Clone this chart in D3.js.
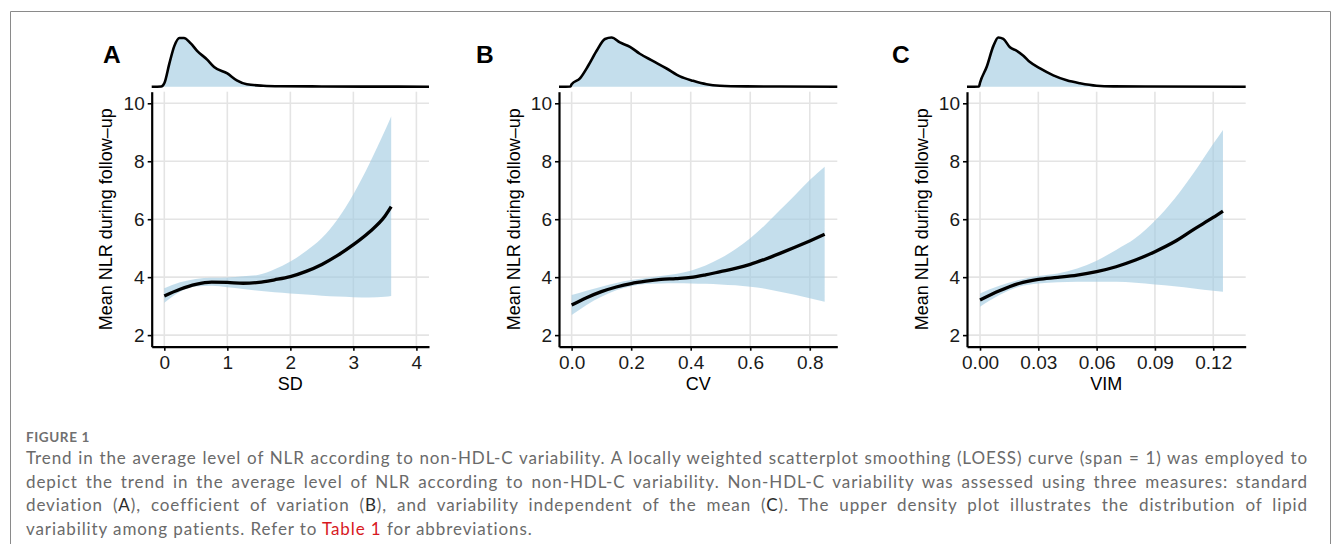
<!DOCTYPE html>
<html>
<head>
<meta charset="utf-8">
<script src="https://cdn.jsdelivr.net/npm/d3@7"></script>
<style>
  body { margin: 0; background: #fff; }
  svg { display: block; }
</style>
</head>
<body>
<div id="chart"></div>
<script>
// ---- data ----
// panel A: SD
var sdX     = [0, 0.25, 0.5, 0.75, 1.0, 1.25, 1.5, 1.75, 2.0, 2.25, 2.5, 2.75, 3.0, 3.25, 3.5, 3.6];
var sdFit   = [3.35, 3.58, 3.75, 3.83, 3.82, 3.79, 3.82, 3.91, 4.02, 4.20, 4.44, 4.75, 5.12, 5.55, 6.10, 6.43];
var sdUpper = [3.62, 3.82, 3.94, 3.98, 3.99, 4.03, 4.08, 4.27, 4.54, 4.90, 5.35, 6.00, 6.86, 7.90, 9.05, 9.54];
var sdLower = [3.12, 3.50, 3.68, 3.70, 3.65, 3.59, 3.53, 3.48, 3.44, 3.40, 3.36, 3.33, 3.31, 3.30, 3.32, 3.35];
var sdDensX = [-0.2, -0.05, 0, 0.08, 0.16, 0.24, 0.31, 0.42, 0.52, 0.68, 0.79, 1.0, 1.15, 1.31, 1.57, 1.84, 2.5, 3.2, 4.2];
var sdDensY = [0, 0.005, 0.07, 0.47, 0.83, 0.99, 0.99, 0.88, 0.73, 0.55, 0.40, 0.27, 0.13, 0.05, 0.02, 0.01, 0.005, 0.002, 0];

// panel B: CV
var cvX     = [0, 0.05, 0.1, 0.15, 0.2, 0.25, 0.3, 0.35, 0.4, 0.45, 0.5, 0.55, 0.6, 0.65, 0.7, 0.75, 0.8, 0.85];
var cvFit   = [3.04, 3.29, 3.50, 3.66, 3.78, 3.86, 3.92, 3.95, 3.99, 4.08, 4.19, 4.30, 4.44, 4.62, 4.82, 5.03, 5.25, 5.48];
var cvUpper = [3.38, 3.53, 3.67, 3.80, 3.90, 3.97, 4.04, 4.11, 4.22, 4.40, 4.65, 4.96, 5.34, 5.80, 6.32, 6.83, 7.35, 7.81];
var cvLower = [2.69, 3.04, 3.32, 3.55, 3.69, 3.76, 3.78, 3.79, 3.78, 3.77, 3.75, 3.72, 3.67, 3.60, 3.50, 3.39, 3.27, 3.15];
var cvDensX = [-0.0425, -0.004, 0, 0.028, 0.056, 0.084, 0.112, 0.134, 0.162, 0.196, 0.229, 0.274, 0.319, 0.364, 0.408, 0.453, 0.498, 0.587, 0.7, 0.8925];
var cvDensY = [0, 0.005, 0.05, 0.17, 0.43, 0.73, 0.97, 1.0, 0.90, 0.81, 0.67, 0.52, 0.37, 0.21, 0.12, 0.05, 0.02, 0.007, 0.003, 0];

// panel C: VIM
var vimX     = [0, 0.01, 0.02, 0.03, 0.04, 0.05, 0.06, 0.07, 0.08, 0.09, 0.10, 0.11, 0.12, 0.125];
var vimFit   = [3.21, 3.53, 3.78, 3.92, 3.99, 4.07, 4.19, 4.36, 4.59, 4.88, 5.22, 5.65, 6.06, 6.28];
var vimUpper = [3.44, 3.70, 3.90, 4.04, 4.13, 4.30, 4.57, 4.94, 5.35, 5.95, 6.70, 7.60, 8.60, 9.08];
var vimLower = [2.98, 3.38, 3.67, 3.78, 3.82, 3.84, 3.84, 3.84, 3.81, 3.75, 3.69, 3.61, 3.53, 3.50];
var vimDensX = [-0.0067, -0.0005, 0, 0.0034, 0.0069, 0.0094, 0.012, 0.0154, 0.0189, 0.0223, 0.0257, 0.0309, 0.0377, 0.0446, 0.0514, 0.06, 0.0686, 0.085, 0.1367];
var vimDensY = [0, 0.005, 0.08, 0.40, 0.83, 1.0, 0.97, 0.80, 0.73, 0.63, 0.50, 0.37, 0.23, 0.13, 0.07, 0.02, 0.007, 0.003, 0];

var panelLabels = ["A", "B", "C"];
var xTitles = ["SD", "CV", "VIM"];
var xTicksA = [0, 1, 2, 3, 4];
var xTicksB = [0, 0.2, 0.4, 0.6, 0.8];
var xTicksC = [0, 0.03, 0.06, 0.09, 0.12];
var yTicks = [2, 4, 6, 8, 10];
var yTitle = "Mean NLR during follow\u2013up";

var captionHead = "FIGURE 1";
var captionLines = [
  "Trend in the average level of NLR according to non-HDL-C variability. A locally weighted scatterplot smoothing (LOESS) curve (span = 1) was employed to",
  "depict the trend in the average level of NLR according to non-HDL-C variability. Non-HDL-C variability was assessed using three measures: standard",
  "deviation (|A|), coefficient of variation (|B|), and variability independent of the mean (|C|). The upper density plot illustrates the distribution of lipid",
  "variability among patients. Refer to #Table 1# for abbreviations."
];

// ---- layout ----
var W = 1335, H = 544;
var plotTop = 91.7, plotBottom = 346.7;
var densBase = 86.7, densTop = 37.5;
var fill = "#a0c9e0", fillOpacity = 0.62;

var panels = [
  { label: panelLabels[0], title: xTitles[0], left: 151.7, right: 429, dom: [-0.2, 4.2], ticks: xTicksA, fmt: d3.format("d"),
    x: sdX, fit: sdFit, up: sdUpper, lo: sdLower, dx: sdDensX, dy: sdDensY, labelX: 103 },
  { label: panelLabels[1], title: xTitles[1], left: 559, right: 837.3, dom: [-0.0425, 0.8925], ticks: xTicksB, fmt: d3.format(".1f"),
    x: cvX, fit: cvFit, up: cvUpper, lo: cvLower, dx: cvDensX, dy: cvDensY, labelX: 476 },
  { label: panelLabels[2], title: xTitles[2], left: 967, right: 1245.7, dom: [-0.0067, 0.1367], ticks: xTicksC, fmt: d3.format(".2f"),
    x: vimX, fit: vimFit, up: vimUpper, lo: vimLower, dx: vimDensX, dy: vimDensY, labelX: 892 }
];

var svg = d3.select("#chart").append("svg")
    .attr("width", W)
    .attr("height", H)
    .style("font-family", "'Liberation Sans', Arial, sans-serif");

// frame
svg.append("path")
    .attr("d", "M10.5," + (H + 2) + "V11.5H1330.5V" + (H + 2))
    .attr("fill", "none")
    .attr("stroke", "#8a8a8a")
    .attr("stroke-width", 1);

var y = d3.scaleLinear().domain([1.6, 10.4]).range([plotBottom, plotTop]);
var yd = d3.scaleLinear().domain([0, 1]).range([densBase, densTop]);

panels.forEach(function (p) {
    var x = d3.scaleLinear().domain(p.dom).range([p.left, p.right]);
    var g = svg.append("g");

    // grid
    g.selectAll(".vgrid").data(p.ticks).enter().append("line")
        .attr("x1", d => x(d)).attr("x2", d => x(d))
        .attr("y1", plotTop).attr("y2", plotBottom)
        .attr("stroke", "#e4e4e4").attr("stroke-width", 1.6);
    g.selectAll(".hgrid").data(yTicks).enter().append("line")
        .attr("x1", p.left).attr("x2", p.right)
        .attr("y1", d => y(d)).attr("y2", d => y(d))
        .attr("stroke", "#e4e4e4").attr("stroke-width", 1.6);

    var rows = p.x.map(function (v, i) { return { x: v, fit: p.fit[i], up: p.up[i], lo: p.lo[i] }; });

    // confidence ribbon
    g.append("path")
        .datum(rows)
        .attr("fill", fill)
        .attr("fill-opacity", fillOpacity)
        .attr("d", d3.area()
            .curve(d3.curveMonotoneX)
            .x(d => x(d.x))
            .y0(d => y(d.lo))
            .y1(d => y(d.up)));

    // loess line
    g.append("path")
        .datum(rows)
        .attr("fill", "none")
        .attr("stroke", "#000")
        .attr("stroke-width", 3.3)
        .attr("d", d3.line()
            .curve(d3.curveMonotoneX)
            .x(d => x(d.x))
            .y(d => y(d.fit)));

    // axes
    var xAxis = g.append("g")
        .attr("transform", "translate(0," + plotBottom + ")")
        .call(d3.axisBottom(x).tickValues(p.ticks).tickFormat(p.fmt).tickSize(4).tickSizeOuter(0).tickPadding(5));
    var yAxis = g.append("g")
        .attr("transform", "translate(" + p.left + ",0)")
        .call(d3.axisLeft(y).tickValues(yTicks).tickSize(4).tickSizeOuter(0).tickPadding(3));
    [xAxis, yAxis].forEach(function (a) {
        a.select(".domain").attr("stroke", "#000").attr("stroke-width", 2.2);
        a.selectAll(".tick line").attr("stroke", "#000").attr("stroke-width", 1.6);
        a.selectAll(".tick text")
            .attr("fill", "#1a1a1a")
            .style("font-size", "19px")
            .style("font-family", "'Liberation Sans', Arial, sans-serif");
    });

    // axis titles
    g.append("text")
        .attr("x", (p.left + p.right) / 2)
        .attr("y", 390)
        .attr("text-anchor", "middle")
        .style("font-size", "18px")
        .attr("fill", "#000")
        .text(p.title);
    g.append("text")
        .attr("transform", "translate(" + (p.left - 39.5) + "," + ((plotTop + plotBottom) / 2) + ") rotate(-90)")
        .attr("text-anchor", "middle")
        .style("font-size", "18px")
        .attr("fill", "#000")
        .text(yTitle);

    // marginal density
    var dens = p.dx.map(function (v, i) { return { x: v, d: p.dy[i] }; });
    g.append("path")
        .datum(dens)
        .attr("fill", fill)
        .attr("fill-opacity", fillOpacity)
        .attr("d", d3.area()
            .curve(d3.curveMonotoneX)
            .x(d => x(d.x))
            .y0(densBase)
            .y1(d => yd(d.d)));
    g.append("path")
        .datum(dens)
        .attr("fill", "none")
        .attr("stroke", "#000")
        .attr("stroke-width", 2.6)
        .attr("d", d3.line()
            .curve(d3.curveMonotoneX)
            .x(d => x(d.x))
            .y(d => yd(d.d)));

    // panel tag
    g.append("text")
        .attr("x", p.labelX)
        .attr("y", 62.7)
        .style("font-size", "24.5px")
        .style("font-weight", "bold")
        .attr("fill", "#000")
        .text(p.label);
});

// ---- caption ----
var capLeft = 26, capRight = 1308;
var capFont = "Lato, 'Open Sans', sans-serif";
svg.append("text")
    .attr("x", capLeft)
    .attr("y", 441.7)
    .style("font-family", capFont)
    .style("font-size", "13.5px")
    .style("font-weight", "bold")
    .style("letter-spacing", "0.6px")
    .attr("fill", "#707070")
    .text(captionHead);

var capTexts = captionLines.map(function (line, i) {
    var t = svg.append("text")
        .attr("x", capLeft)
        .attr("y", 464 + i * 23.7)
        .style("font-family", capFont)
        .style("font-size", "17px")
        .attr("fill", "#6a6a6a");
    // split into plain / dark (|...|) / red (#...#) parts
    line.split(/(\|[^|]*\||#[^#]*#)/).forEach(function (part) {
        if (!part) return;
        var ts = t.append("tspan");
        if (part[0] === "|") ts.attr("fill", "#2b2b2b").text(part.slice(1, -1));
        else if (part[0] === "#") ts.attr("fill", "#d7191f").text(part.slice(1, -1));
        else ts.text(part);
    });
    return t;
});

// the source face is wider than Lato: spread letters so line 1 nearly fills the measure, then justify
var plain0 = captionLines[0].replace(/[|#]/g, "");
var ls = Math.max(0, (capRight - capLeft - capTexts[0].node().getComputedTextLength()) / plain0.length) * 0.92;
capTexts.forEach(function (t, i) {
    t.style("letter-spacing", ls + "px");
    if (i < captionLines.length - 1) {
        var natural = t.node().getComputedTextLength();
        var spaces = captionLines[i].split(" ").length - 1;
        t.attr("word-spacing", (capRight - capLeft - natural) / spaces);
    }
});
</script>
</body>
</html>
